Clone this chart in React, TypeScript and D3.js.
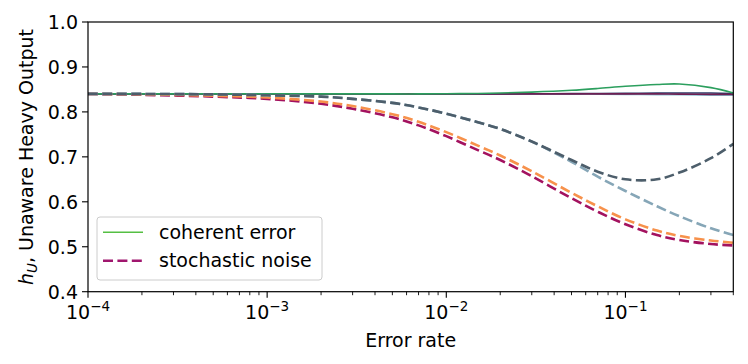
import React from "react";
import * as d3 from "d3";

const errorRates = [1e-4, 2e-4, 5e-4, 1e-3, 2e-3, 3e-3, 5e-3, 7e-3, 1e-2, 1.5e-2, 2e-2, 3e-2, 5e-2, 7e-2, 0.1, 0.15, 0.2, 0.3, 0.4];

// coherent error (solid)
const coherentTeal = [0.84, 0.84, 0.84, 0.84, 0.84, 0.84, 0.84, 0.84, 0.84, 0.84, 0.84, 0.84, 0.84, 0.8395, 0.839, 0.8385, 0.838, 0.837, 0.837];
const coherentNavy = [0.84, 0.84, 0.84, 0.84, 0.84, 0.84, 0.84, 0.84, 0.84, 0.84, 0.84, 0.8403, 0.8407, 0.841, 0.8413, 0.842, 0.842, 0.842, 0.841];
const coherentMaroon = [0.84, 0.84, 0.84, 0.84, 0.84, 0.84, 0.84, 0.84, 0.84, 0.84, 0.84, 0.84, 0.84, 0.84, 0.84, 0.84, 0.8395, 0.839, 0.839];
const coherentGreen = [0.84, 0.84, 0.84, 0.84, 0.84, 0.84, 0.84, 0.84, 0.8405, 0.841, 0.842, 0.844, 0.848, 0.852, 0.857, 0.861, 0.862, 0.854, 0.842];

// stochastic noise (dashed)
const stochMagenta = [0.84, 0.838, 0.834, 0.829, 0.818, 0.807, 0.788, 0.77, 0.746, 0.715, 0.693, 0.657, 0.608, 0.578, 0.55, 0.526, 0.515, 0.506, 0.503];
const stochOrange = [0.84, 0.839, 0.836, 0.832, 0.823, 0.813, 0.795, 0.778, 0.755, 0.725, 0.703, 0.668, 0.62, 0.59, 0.561, 0.536, 0.524, 0.514, 0.509];
const stochLight = [0.84, 0.84, 0.839, 0.837, 0.834, 0.829, 0.82, 0.81, 0.796, 0.777, 0.762, 0.734, 0.689, 0.656, 0.624, 0.59, 0.568, 0.541, 0.526];
const stochDark = [0.84, 0.84, 0.839, 0.837, 0.834, 0.829, 0.82, 0.81, 0.796, 0.777, 0.762, 0.734, 0.693, 0.667, 0.65, 0.65, 0.665, 0.697, 0.729];

const yTicks = [0.4, 0.5, 0.6, 0.7, 0.8, 0.9, 1.0];
const xMajorExps = [-4, -3, -2, -1];

const legendLabels = ["coherent error", "stochastic noise"];

const W = 748;
const H = 364;
const L = 88;
const R = 733.3;
const T = 22;
const B = 291.7;
const FONT = "DejaVu Sans, sans-serif";
const FS = 19;

export default function App() {
  const x = d3.scaleLog().domain([1e-4, 0.4]).range([L, R]);
  const y = d3.scaleLinear().domain([0.4, 1.0]).range([B, T]);

  const line = d3
    .line<number>()
    .x((_, i) => x(errorRates[i]))
    .y((d) => y(d))
    .curve(d3.curveCatmullRom.alpha(0.5));

  const minorTicks: number[] = [];
  for (let e = -4; e <= -1; e++) {
    for (let m = 2; m <= 9; m++) {
      const v = m * Math.pow(10, e);
      if (v <= 0.4 + 1e-9) minorTicks.push(v);
    }
  }

  const solids = [
    { data: coherentTeal, color: "#8cbfd2" },
    { data: coherentNavy, color: "#2b3a67" },
    { data: coherentMaroon, color: "#6e1f52" },
    { data: coherentGreen, color: "#2c9f5e" },
  ];
  const dashed = [
    { data: stochMagenta, color: "#a3125f" },
    { data: stochOrange, color: "#f7914b" },
    { data: stochLight, color: "#86a6b7" },
    { data: stochDark, color: "#4d5e6b" },
  ];

  const lx = 97;
  const ly = 217;
  const lw = 225;
  const lh = 63;

  return (
    <svg width={W} height={H} style={{ position: "absolute", left: 0, top: 0, background: "#fff" }} fontFamily={FONT}>
      <defs>
        <clipPath id="plot">
          <rect x={L} y={T} width={R - L} height={B - T} />
        </clipPath>
      </defs>
      <g clipPath="url(#plot)">
        {solids.map((s, i) => (
          <path key={"s" + i} d={line(s.data) || ""} fill="none" stroke={s.color} strokeWidth={1.6} />
        ))}
        {dashed.map((s, i) => (
          <path
            key={"d" + i}
            d={line(s.data) || ""}
            fill="none"
            stroke={s.color}
            strokeWidth={2.6}
            strokeDasharray="10,4.4"
          />
        ))}
      </g>
      {/* frame */}
      <rect x={L} y={T} width={R - L} height={B - T} fill="none" stroke="#000" strokeWidth={1.2} />
      {/* y ticks */}
      {yTicks.map((t) => (
        <g key={"y" + t}>
          <line x1={L - 6} x2={L} y1={y(t)} y2={y(t)} stroke="#000" strokeWidth={1.1} />
          <text x={L - 10} y={y(t)} dy="0.36em" textAnchor="end" fontSize={FS} fill="#000">
            {t.toFixed(1)}
          </text>
        </g>
      ))}
      {/* x minor ticks */}
      {minorTicks.map((v, i) => (
        <line key={"m" + i} x1={x(v)} x2={x(v)} y1={B} y2={B + 3.5} stroke="#000" strokeWidth={0.9} />
      ))}
      {/* x major ticks */}
      {xMajorExps.map((e) => (
        <g key={"x" + e}>
          <line x1={x(Math.pow(10, e))} x2={x(Math.pow(10, e))} y1={B} y2={B + 6} stroke="#000" strokeWidth={1.1} />
          <text x={x(Math.pow(10, e))} y={319} textAnchor="middle" fontSize={FS} fill="#000">
            10
            <tspan dy={-8} fontSize={13.5}>
              {"\u2212" + Math.abs(e)}
            </tspan>
          </text>
        </g>
      ))}
      {/* axis labels */}
      <text x={(L + R) / 2} y={347} textAnchor="middle" fontSize={FS} fill="#000">
        Error rate
      </text>
      <text transform={`translate(33,157) rotate(-90)`} textAnchor="middle" fontSize={FS} fill="#000">
        <tspan fontStyle="italic">h</tspan>
        <tspan fontStyle="italic" fontSize={13.5} dy={4}>
          U
        </tspan>
        <tspan dy={-4}>, Unaware Heavy Output</tspan>
      </text>
      {/* legend */}
      <rect x={lx} y={ly} width={lw} height={lh} rx={3} fill="#fff" fillOpacity={0.85} stroke="#cccccc" strokeWidth={1} />
      <line x1={103} x2={143} y1={232.3} y2={232.3} stroke="#55bf43" strokeWidth={1.4} />
      <text x={159} y={238.5} fontSize={FS} fill="#000">
        {legendLabels[0]}
      </text>
      <line x1={103} x2={143} y1={260.7} y2={260.7} stroke="#a0166e" strokeWidth={2.6} strokeDasharray="10,4.4" />
      <text x={159} y={267} fontSize={FS} fill="#000">
        {legendLabels[1]}
      </text>
    </svg>
  );
}
